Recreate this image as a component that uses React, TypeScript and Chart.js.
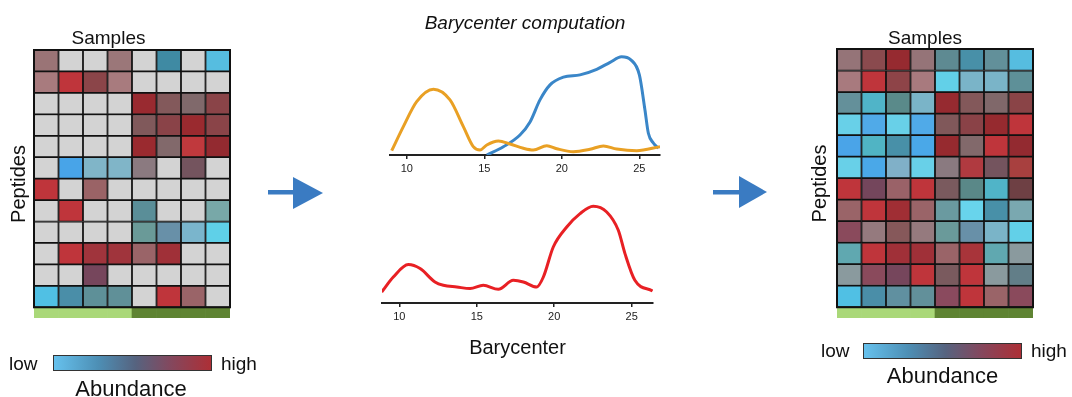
import React, { useEffect, useRef } from "react";
import { Chart, registerables } from "chart.js";
Chart.register(...registerables);

// ---------- DATA ----------
const SAMPLES = ["S1", "S2", "S3", "S4", "S5", "S6", "S7", "S8"];
const SAMPLE_GROUP = ["A", "A", "A", "A", "B", "B", "B", "B"];
const G = "#d3d3d3"; // missing value

// Left heatmap (peptides x samples, top row first) - with missing values
const LEFT_CELLS: string[][] = [
  ["#9a7476", G, G, "#9b7779", G, "#3f8aa3", G, "#56bde0"],
  ["#a87b7e", "#bf353b", "#8b4549", "#a87b7e", G, G, G, G],
  [G, G, G, G, "#992a30", "#83595b", "#80696b", "#8a4448"],
  [G, G, G, G, "#80595b", "#8a4348", "#9a2a2f", "#8a4448"],
  [G, G, G, G, "#9a2a2f", "#82696b", "#c0393d", "#932a30"],
  [G, "#48a4e8", "#80b5c8", "#80b5c8", "#8b7a80", G, "#74545e", G],
  ["#bf353b", G, "#9a6366", G, G, G, G, G],
  [G, "#bf353b", G, G, "#5a8e98", G, G, "#78a8a8"],
  [G, G, G, G, "#6a9a98", "#6890a8", "#7ab5cc", "#5fd0e8"],
  [G, "#bf353b", "#a0343c", "#a0343c", "#9a6468", "#a03038", G, G],
  [G, G, "#76465c", G, G, G, G, G],
  ["#50c0e4", "#4a8ea8", "#5e9098", "#609098", G, "#bf353b", "#9a6468", G],
];

// Right heatmap after imputation
const RIGHT_CELLS: string[][] = [
  ["#957478", "#8a4a4e", "#962a30", "#957478", "#5e8a92", "#4890a8", "#62909a", "#56bde0"],
  ["#a87a7e", "#bf353b", "#8e4448", "#a87a7e", "#62d0e8", "#7ab4c8", "#7ab4c8", "#5e9098"],
  ["#64909a", "#50b4c8", "#5a8a8a", "#7ab4c8", "#962a30", "#83585a", "#80686a", "#8a4447"],
  ["#68d0e8", "#50aae8", "#68d0e8", "#50aae8", "#80585a", "#8a4247", "#962a2f", "#bf353b"],
  ["#4aa4e8", "#50b4c4", "#4890a8", "#4aa8e8", "#962a2f", "#82696b", "#bf353b", "#932a30"],
  ["#68d0e8", "#4aa8e8", "#80b0c8", "#68d0e8", "#8a7a80", "#b03a40", "#74545e", "#a8403f"],
  ["#bf353b", "#74465c", "#9a6268", "#bf353b", "#7a5a5e", "#5a8888", "#50b4c8", "#6e4044"],
  ["#9a6468", "#bf353b", "#a02e34", "#9a6468", "#6a9aa0", "#68d4ec", "#4890a8", "#7aa8b0"],
  ["#8a4a5c", "#957a7e", "#86585a", "#957a7e", "#6a9a9a", "#6890a8", "#7ab4c8", "#62d0e8"],
  ["#60a8b0", "#bf353b", "#a03038", "#a03038", "#9a6468", "#a8343a", "#60a8b0", "#8a9a9e"],
  ["#8a9a9e", "#8a4a5c", "#76465c", "#bf353b", "#7a5a5e", "#bf353b", "#8a9a9e", "#627e88"],
  ["#50c0e4", "#4a8ea8", "#6090a0", "#62909a", "#8a4a5e", "#bf353b", "#9a6468", "#8a4a5c"],
];

// Barycenter density curves (top panel)
const ORANGE_X = [9.03, 9.78, 10.64, 11.72, 12.79, 13.65, 14.29, 14.73, 15.16, 15.91, 16.66, 17.52, 18.16, 19.03, 19.67, 20.74, 21.82, 22.68, 23.54, 24.83, 26.33];
const ORANGE_Y = [4.3, 28.3, 53.3, 65.7, 55, 28.3, 8.3, 5, 10, 14, 11, 6.7, 5, 9.3, 6.3, 3.3, 5.7, 9, 6, 4.3, 8.3];
const BLUE_X = [15.16, 16.23, 17.3, 17.95, 18.59, 19.24, 20.1, 21.17, 22.25, 23.11, 23.85, 24.45, 25.0, 25.36, 25.58, 25.9, 26.22];
const BLUE_Y = [0, 8.3, 20, 33, 55, 70, 77.7, 80, 85.5, 92.5, 98, 95, 80, 45, 21.7, 12, 6.7];
// Bottom panel
const RED_X = [8.86, 9.61, 10.58, 11.34, 12.3, 12.84, 13.71, 14.57, 15.42, 16.39, 17.36, 18.01, 18.87, 19.3, 19.94, 20.81, 21.67, 22.52, 23.39, 24.14, 24.57, 25.21, 26.35];
const RED_Y = [11, 26, 38.4, 34.4, 21, 17.7, 16, 14.4, 17.7, 13.7, 22.7, 21, 16, 26, 56, 76, 89.4, 96.7, 91, 72.7, 49.4, 22.7, 12];
const X_TICKS = [10, 15, 20, 25];

// ---------- STYLE ----------
const FONT = "'Liberation Sans', Arial, Helvetica, sans-serif";
const GROUP_COLOR: Record<string, string> = { A: "#aad879", B: "#5f8433" };
const ARROW = "#3a7bc2";

function Heatmap({ cells, left, padTop, titlePad }: { cells: string[][]; left: number; padTop: number; titlePad: number }) {
  const ref = useRef<HTMLCanvasElement>(null);
  useEffect(() => {
    const rows = [...cells].reverse();
    const datasets: any[] = [
      {
        data: SAMPLES.map(() => -0.5),
        backgroundColor: SAMPLE_GROUP.map((g) => GROUP_COLOR[g]),
        borderWidth: 0,
      },
      ...rows.map((r) => ({
        data: SAMPLES.map(() => 1),
        backgroundColor: r,
        borderColor: "#111",
        borderWidth: 1.2,
        borderSkipped: false,
      })),
    ];
    const outline = {
      id: "outline",
      afterDatasetsDraw(chart: any) {
        const { ctx, chartArea, scales } = chart;
        const y0 = scales.y.getPixelForValue(0);
        ctx.save();
        ctx.strokeStyle = "#111";
        ctx.lineWidth = 2;
        ctx.strokeRect(chartArea.left, chartArea.top, chartArea.right - chartArea.left, y0 - chartArea.top);
        ctx.restore();
      },
    };
    const chart = new Chart(ref.current!, {
      type: "bar",
      data: { labels: SAMPLES, datasets },
      options: {
        animation: false,
        responsive: false,
        layout: { padding: { left: 0, right: 2, top: padTop, bottom: 2 } },
        datasets: { bar: { barPercentage: 1, categoryPercentage: 1 } },
        plugins: { legend: { display: false }, tooltip: { enabled: false } },
        scales: {
          x: { stacked: true, display: false },
          y: {
            stacked: true,
            min: -0.5,
            max: 12,
            ticks: { display: false },
            grid: { display: false },
            border: { display: false },
            title: {
              display: true,
              text: "Peptides",
              color: "#111",
              font: { family: FONT, size: 20 },
              padding: { top: titlePad, bottom: 0 },
            },
            afterFit: (s: any) => {
              s.width = 34;
            },
          },
        },
      } as any,
      plugins: [outline],
    });
    return () => chart.destroy();
  }, []);
  return (
    <canvas ref={ref} width={232} height={320} style={{ position: "absolute", left, top: 0 }} />
  );
}

function Density({
  series,
  left,
  top,
  width,
  height,
  pad,
  xMin,
  xMax,
  title,
  xTitle,
  axisH,
}: any) {
  const ref = useRef<HTMLCanvasElement>(null);
  useEffect(() => {
    const chart = new Chart(ref.current!, {
      type: "line",
      data: {
        datasets: series.map((s: any) => ({
          data: s.x.map((x: number, i: number) => ({ x, y: s.y[i] })),
          borderColor: s.color,
          borderWidth: 3,
          pointRadius: 0,
          cubicInterpolationMode: "monotone",
          fill: false,
        })),
      },
      options: {
        animation: false,
        responsive: false,
        layout: { padding: pad },
        plugins: {
          legend: { display: false },
          tooltip: { enabled: false },
          title: title
            ? {
                display: true,
                text: title,
                color: "#111",
                font: { family: FONT, size: 19, style: "italic", weight: "normal" },
                padding: { top: 12, bottom: 15 },
              }
            : { display: false },
        },
        scales: {
          x: {
            type: "linear",
            min: xMin,
            max: xMax,
            afterBuildTicks: (s: any) => {
              s.ticks = X_TICKS.map((v) => ({ value: v }));
            },
            ticks: { color: "#222", font: { family: FONT, size: 11 }, padding: 3, includeBounds: false },
            grid: { drawOnChartArea: false, drawTicks: true, tickLength: 4, color: "#222", lineWidth: 1.5 },
            border: { display: true, color: "#222", width: 2 },
            title: xTitle
              ? { display: true, text: xTitle, color: "#111", font: { family: FONT, size: 20 }, padding: { top: 0, bottom: 0 } }
              : { display: false },
            afterFit: (s: any) => {
              s.height = axisH;
            },
          },
          y: { display: false, min: 0, max: 105 },
        },
      } as any,
    });
    return () => chart.destroy();
  }, []);
  return <canvas ref={ref} width={width} height={height} style={{ position: "absolute", left, top }} />;
}

const txt = (text: string, left: number, top: number, size: number, width?: number): React.ReactNode => (
  <div
    style={{
      position: "absolute",
      left,
      top,
      width,
      textAlign: width ? "center" : "left",
      fontFamily: FONT,
      fontSize: size,
      lineHeight: `${size}px`,
      color: "#111",
      whiteSpace: "nowrap",
    }}
  >
    {text}
  </div>
);

const GRADIENT = "linear-gradient(to right, #66c1ed 0%, #4d8fb5 28%, #56637f 52%, #83485e 74%, #ad2f36 100%)";

export default function App() {
  return (
    <div style={{ position: "absolute", left: 0, top: 0, width: 1072, height: 397, background: "#fff", overflow: "hidden" }}>
      <Heatmap cells={LEFT_CELLS} left={0} padTop={50} titlePad={7} />
      <Heatmap cells={RIGHT_CELLS} left={803} padTop={49} titlePad={5} />
      {txt("Samples", 48.5, 27.5, 19, 120)}
      {txt("Samples", 865, 27.5, 19, 120)}

      <Density
        series={[
          { x: ORANGE_X, y: ORANGE_Y, color: "rgb(233,160,36)" },
          { x: BLUE_X, y: BLUE_Y, color: "rgb(58,134,200)" },
        ]}
        left={370}
        top={0}
        width={310}
        height={176}
        pad={{ left: 20, right: 20, top: 0, bottom: 0 }}
        xMin={8.92}
        xMax={26.33}
        title="Barycenter computation"
        axisH={21}
      />
      <Density
        series={[{ x: RED_X, y: RED_Y, color: "rgb(232,32,36)" }]}
        left={370}
        top={195}
        width={300}
        height={165}
        pad={{ left: 12, right: 17, top: 3, bottom: 0 }}
        xMin={8.88}
        xMax={26.38}
        xTitle="Barycenter"
        axisH={57}
      />

      <svg width={1072} height={397} style={{ position: "absolute", left: 0, top: 0, pointerEvents: "none" }}>
        <rect x={268} y={190} width={28} height={4.5} fill={ARROW} />
        <polygon points="293,177 323,193 293,209" fill={ARROW} />
        <rect x={713} y={190} width={28} height={4.5} fill={ARROW} />
        <polygon points="739,176 767,192 739,208" fill={ARROW} />
      </svg>

      <div style={{ position: "absolute", left: 53, top: 355, width: 159, height: 16, boxSizing: "border-box", border: "1px solid #333", background: GRADIENT }} />
      {txt("low", 9, 353.7, 19)}
      {txt("high", 221, 353.7, 19)}
      {txt("Abundance", 71, 378, 22, 120)}

      <div style={{ position: "absolute", left: 863, top: 343, width: 159, height: 16, boxSizing: "border-box", border: "1px solid #333", background: GRADIENT }} />
      {txt("low", 821, 340.7, 19)}
      {txt("high", 1031, 340.7, 19)}
      {txt("Abundance", 882.5, 365, 22, 120)}
    </div>
  );
}
